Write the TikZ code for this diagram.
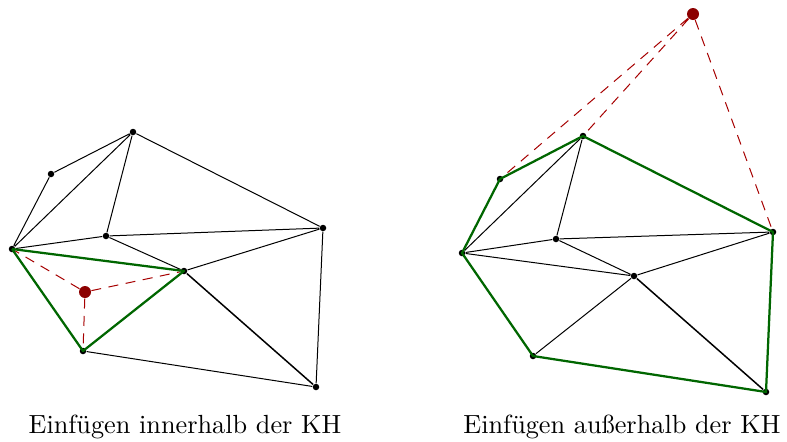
\documentclass[tikz,border=0pt]{standalone}
\begin{document}
\begin{tikzpicture}[x=0.4pt,y=-0.4pt,
  pt/.style={circle,fill=black,inner sep=0pt,minimum size=2.6pt},
  newpt/.style={circle,fill=red!55!black,inner sep=0pt,minimum size=4.8pt},
  edge/.style={black,line width=0.4pt},
  hull/.style={draw=green!40!black,line width=0.9pt,line join=round},
  aux/.style={red!65!black,dashed,line width=0.4pt,dash pattern=on 4pt off 3pt},
  captext/.style={font=\fontsize{10.5}{12}\selectfont,inner sep=0pt}]
\useasboundingbox (0,0) rectangle (787,441);
% left
\node[pt] (A) at (133,132) {};
\node[pt] (B) at (51,174) {};
\node[pt] (C) at (12,249) {};
\node[pt] (D) at (106,236) {};
\node[pt] (E) at (323,228) {};
\node[pt] (F) at (184,271) {};
\node[pt] (H) at (83,351) {};
\node[pt] (I) at (316,387) {};
\node[newpt] (G) at (85,292) {};
\draw[edge] (B)--(A) (B)--(C) (C)--(A) (A)--(D) (A)--(E) (C)--(D) (D)--(E) (D)--(F) (F)--(E) (H)--(I) (E)--(I);
\draw[edge,line width=0.6pt] (F)--(I);
\draw[aux] (G)--(C) (G)--(F) (G)--(H);
\draw[hull] (C.center)--(F.center)--(H.center)--(C.center);
\node[captext] (l1) at (185,427) {Einfügen innerhalb der KH};
% right
\node[pt] (Q) at (500,179) {};
\node[pt] (R) at (583,136) {};
\node[pt] (S) at (462,253) {};
\node[pt] (T) at (556,239) {};
\node[pt] (U) at (773,232) {};
\node[pt] (V) at (634,276) {};
\node[pt] (W) at (533,356) {};
\node[pt] (X) at (766,392) {};
\node[newpt] (P) at (693,14) {};
\draw[edge] (S)--(R) (R)--(T) (S)--(T) (T)--(U) (S)--(V) (T)--(V) (V)--(U) (V)--(W);
\draw[edge,line width=0.6pt] (V)--(X);
\draw[aux] (P)--(Q) (P)--(R) (P)--(U);
\draw[hull] (Q.center)--(R.center)--(U.center)--(X.center)--(W.center)--(S.center)--(Q.center);
\node[captext] (l2) at (622,427) {Einfügen außerhalb der KH};
\end{tikzpicture}
\end{document}
